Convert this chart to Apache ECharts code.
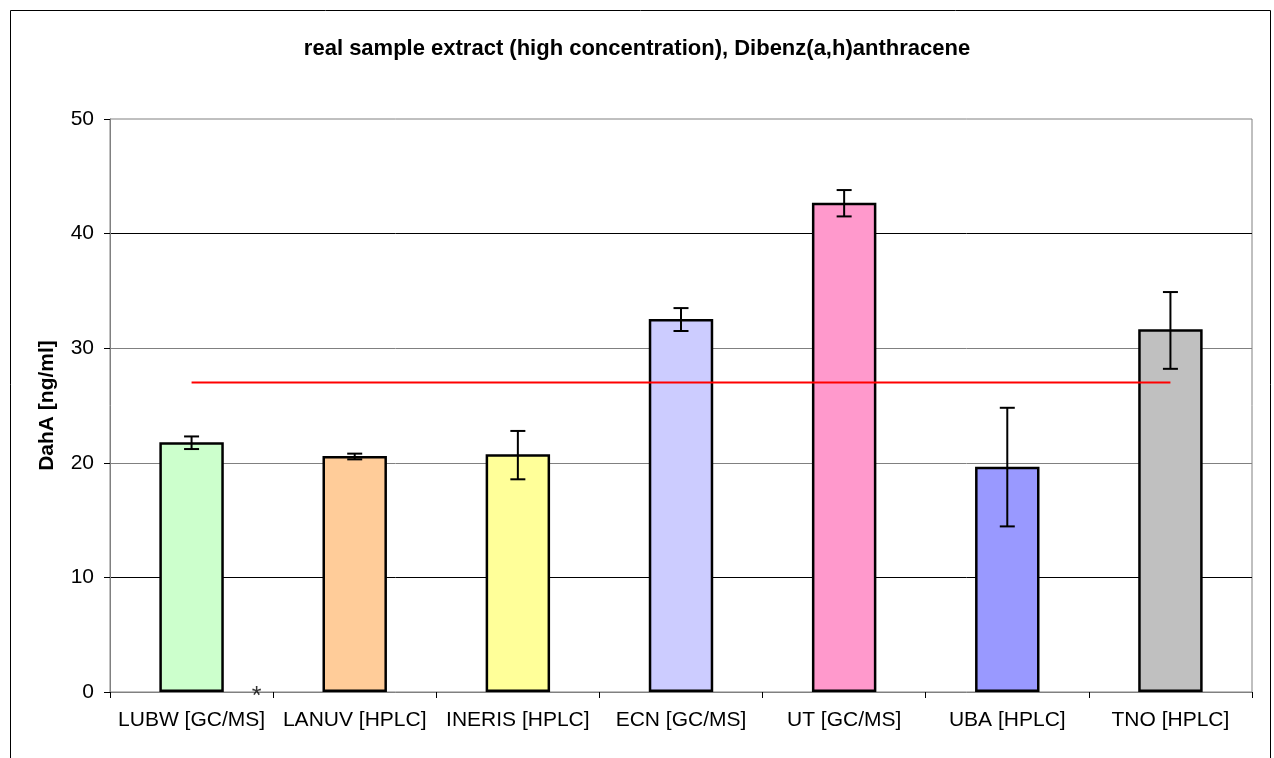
<!DOCTYPE html>
<html><head><meta charset="utf-8">
<script src="https://cdn.jsdelivr.net/npm/echarts@6/dist/echarts.min.js"></script>
<style>html,body{margin:0;padding:0;background:#fff}#c{width:1274px;height:758px}</style>
</head><body><div id="c"></div>
<script>
const categories = ['LUBW [GC/MS]','LANUV [HPLC]','INERIS [HPLC]','ECN [GC/MS]','UT [GC/MS]','UBA [HPLC]','TNO [HPLC]'];
const means = [21.8, 20.6, 20.75, 32.55, 42.7, 19.65, 31.65];
const errLow = [21.2, 20.3, 18.56, 31.5, 41.5, 14.45, 28.2];
const errHigh = [22.3, 20.8, 22.78, 33.5, 43.8, 24.8, 34.9];
const barColors = ['#CCFFCC','#FFCC99','#FFFF99','#CCCCFF','#FF99CC','#9999FF','#C0C0C0'];
const referenceValue = 27.0;
const markerLabel = '*';
const yMin = 0, yMax = 50, yStep = 10;

const chart = echarts.init(document.getElementById('c'), null, {renderer: 'canvas'});
const FONT = '"Liberation Sans", Arial, sans-serif';

const option = {
  backgroundColor: '#ffffff',
  animation: false,
  title: {
    text: 'real sample extract (high concentration), Dibenz(a,h)anthracene',
    left: 'center', top: 33,
    textStyle: {fontFamily: FONT, fontSize: 22, fontWeight: 'bold', color: '#000'}
  },
  graphic: [{
    type: 'rect', silent: true, z: -1,
    shape: {x: 10.5, y: 10.5, width: 1260, height: 800},
    style: {fill: 'none', stroke: '#000', lineWidth: 1}
  }],
  grid: {left: 110, right: 22, top: 119, bottom: 66, show: true, borderColor: '#808080', borderWidth: 1, containLabel: false},
  xAxis: {
    type: 'category', data: categories, boundaryGap: true,
    axisLine: {show: true, lineStyle: {color: '#808080', width: 1}},
    axisTick: {show: true, length: 6, lineStyle: {color: '#000'}},
    axisLabel: {fontFamily: FONT, fontSize: 21, color: '#000', margin: 18, interval: 0},
    splitLine: {show: false}
  },
  yAxis: {
    type: 'value', min: yMin, max: yMax, interval: yStep,
    name: 'DahA [ng/ml]', nameLocation: 'middle', nameGap: 52, nameRotate: 90,
    nameTextStyle: {fontFamily: FONT, fontSize: 21, fontWeight: 'bold', color: '#000'},
    axisLine: {show: true, lineStyle: {color: '#808080', width: 1}},
    axisTick: {show: true, length: 6, lineStyle: {color: '#000'}},
    axisLabel: {fontFamily: FONT, fontSize: 21, color: '#000', margin: 16},
    splitLine: {show: true, showMinLine: false, showMaxLine: false, lineStyle: {color: ['#000', '#808080', '#808080', '#000'], width: 1}}
  },
  series: [
    {
      type: 'bar', barWidth: '39.5%', z: 2,
      data: means.map((v, i) => ({value: v, itemStyle: {color: barColors[i]}})),
      itemStyle: {borderColor: '#000', borderWidth: 2.5}
    },
    {
      type: 'line', z: 3, symbol: 'none', silent: true,
      data: categories.map(() => referenceValue),
      lineStyle: {color: '#FF0000', width: 2}
    },
    {
      type: 'custom', z: 4, silent: true,
      data: categories.map((c, i) => [i, errLow[i], errHigh[i]]),
      renderItem: function (params, api) {
        const x = api.value(0);
        const lo = api.coord([x, api.value(1)]);
        const hi = api.coord([x, api.value(2)]);
        const hw = 7.5;
        const st = {stroke: '#000', lineWidth: 2};
        return {type: 'group', children: [
          {type: 'line', shape: {x1: lo[0], y1: lo[1], x2: hi[0], y2: hi[1]}, style: st},
          {type: 'line', shape: {x1: lo[0] - hw, y1: lo[1], x2: lo[0] + hw, y2: lo[1]}, style: st},
          {type: 'line', shape: {x1: hi[0] - hw, y1: hi[1], x2: hi[0] + hw, y2: hi[1]}, style: st}
        ]};
      }
    },
    {
      type: 'scatter', z: 5, silent: true, symbolSize: 1,
      itemStyle: {color: 'rgba(0,0,0,0)'},
      data: [[0, 0]],
      label: {show: true, formatter: markerLabel, position: 'inside', offset: [65, 5],
        fontFamily: FONT, fontSize: 25, color: '#000'}
    }
  ]
};
chart.setOption(option);
</script>
</body></html>
